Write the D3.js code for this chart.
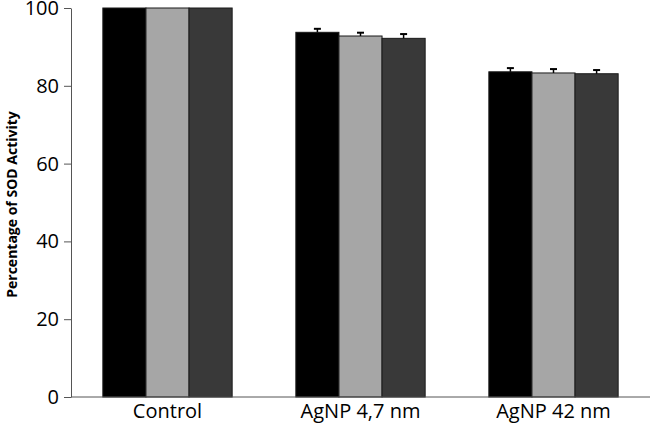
<!DOCTYPE html>
<html><head><meta charset="utf-8">
<script src="https://cdn.jsdelivr.net/npm/d3@7"></script>
<style>body{margin:0;background:#fff}svg{display:block}</style>
</head><body>
<svg id="c" width="651" height="424"></svg>
<script>
const categories = ["Control", "AgNP 4,7 nm", "AgNP 42 nm"];
const seriesNames = ["s1", "s2", "s3"];
const series1 = [100, 93.75, 83.6];
const series2 = [100, 92.8, 83.3];
const series3 = [100, 92.2, 83.1];
const err1 = [0, 0.9, 0.95];
const err2 = [0, 0.85, 1.0];
const err3 = [0, 1.1, 0.95];
const yTicks = [0, 20, 40, 60, 80, 100];
const colors = ["#000000", "#a6a6a6", "#393939"];

const vals = [series1, series2, series3];
const errs = [err1, err2, err3];

const svg = d3.select("#c");
const x0 = 71, x1 = 650, yBottom = 397, yTop = 8;
const x = d3.scaleBand().domain(categories).range([x0, x1]).paddingInner(0.33).paddingOuter(0.165);
const xs = d3.scaleBand().domain(seriesNames).range([0, x.bandwidth()]);
const y = d3.scaleLinear().domain([0, 100]).range([yBottom, yTop]);

const font = "'Open Sans', Lato, sans-serif";

const g = svg.append("g");
categories.forEach((c, i) => {
  seriesNames.forEach((s, j) => {
    const v = vals[j][i];
    const bx = x(c) + xs(s);
    g.append("rect")
      .attr("x", bx).attr("y", y(v))
      .attr("width", xs.bandwidth()).attr("height", y(0) - y(v))
      .attr("fill", colors[j]).attr("stroke", "#1a1a1a").attr("stroke-width", 1);
    const e = errs[j][i];
    if (e > 0) {
      const cx = bx + xs.bandwidth() / 2;
      g.append("line").attr("x1", cx).attr("x2", cx).attr("y1", y(v)).attr("y2", y(v + e))
        .attr("stroke", "#000").attr("stroke-width", 1.5);
      g.append("line").attr("x1", cx - 3.5).attr("x2", cx + 3.5).attr("y1", y(v + e)).attr("y2", y(v + e))
        .attr("stroke", "#000").attr("stroke-width", 2);
    }
  });
});

// Y axis
const ya = svg.append("g").attr("transform", `translate(${x0},0)`)
  .call(d3.axisLeft(y).tickValues(yTicks).tickSize(7).tickPadding(5).tickSizeOuter(0))
  .attr("font-family", font).attr("font-size", 20);
ya.select(".domain").attr("stroke", "#555");
ya.selectAll(".tick line").attr("stroke", "#555");
ya.selectAll("text").attr("fill", "#000");

// X axis
const xa = svg.append("g").attr("transform", `translate(0,${yBottom})`)
  .call(d3.axisBottom(x).tickSize(0).tickPadding(7))
  .attr("font-family", font).attr("font-size", 20);
xa.select(".domain").attr("stroke", "#555").attr("d", `M${x0},0H${x1}`);
xa.selectAll("text").attr("fill", "#000");

svg.append("text")
  .attr("transform", `translate(17,${(yTop + yBottom) / 2 + 2}) rotate(-90)`)
  .attr("text-anchor", "middle")
  .attr("font-family", font).attr("font-weight", "bold").attr("font-size", 14)
  .text("Percentage of SOD Activity");
</script>
</body></html>
